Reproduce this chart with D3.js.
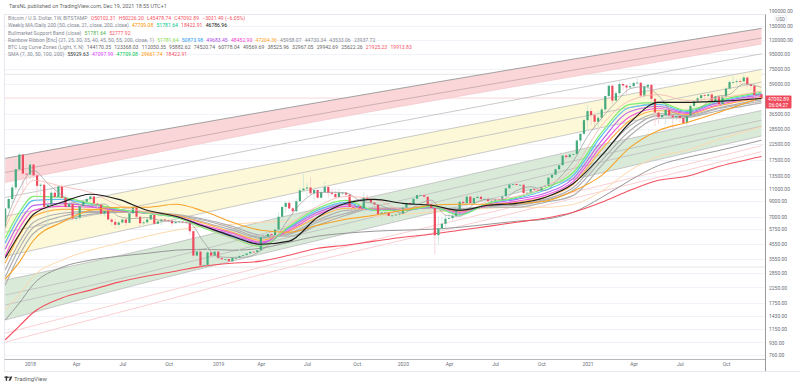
<!DOCTYPE html>
<html>
<head>
<meta charset="utf-8">
<script src="https://cdn.jsdelivr.net/npm/d3@7"></script>
<style>
  html, body { margin: 0; background: #fff; }
  svg { display: block; }
  text { font-family: Roboto, "Liberation Sans", sans-serif; }
</style>
</head>
<body>
<script>
// weekly candles, Nov 13 2017 to Dec 13 2021, one row per quarter
const closes = [8000,9300,11200,15000,19000,14000,13800,
  16200,13600,11500,11700,8200,8500,10300,9600,11400,9500,8200,8600,6800,
  6900,8300,8900,9300,9700,8650,8500,7350,7700,6700,6450,6150,6380,
  6700,6350,7400,8200,7000,6300,6400,6700,7200,6250,6500,6700,6600,
  6580,6300,6420,6480,6400,6350,5550,3750,4000,3200,3230,3950,3750,4000,
  3600,3530,3550,3420,3620,3620,3730,3780,3880,3990,3970,4090,
  5050,5080,5300,5200,5700,7000,8200,8750,8000,7650,8970,10700,11000,
  11200,10200,10750,9500,10400,11300,10300,10100,9600,10300,10300,9980,8200,8150,
  8300,8000,9500,9300,8800,8500,7300,7500,7500,7100,7150,7250,7350,
  8100,8700,8600,9350,9900,9900,9650,8550,8050,5200,5800,6250,6780,
  6850,7100,7700,8900,8700,9680,8720,9450,9650,9300,9300,9000,9050,
  9300,9150,9700,11050,11750,11850,11650,11700,10250,10300,10900,10750,10650,
  11300,11500,13100,13750,15000,16000,18700,18200,19000,19150,23800,26500,33000,
  38200,35800,32200,34300,39200,48600,57400,45200,50900,59000,57600,55800,57000,
  60000,60300,49000,56500,58200,46500,37300,34600,35800,39000,35600,34500,35300,
  34200,31500,35400,41500,44600,47000,49300,48800,49900,44900,48300,42700,48200,
  54800,60900,60900,61800,61500,65500,58700,57200,49400,50102.31,47092.89];
const highs = [8050,9750,11800,17200,19666,19000,16500,
  17300,15400,14000,12000,12000,9000,11000,11700,11500,11700,9900,9200,8600,
  7700,8400,9000,9750,10000,9800,8900,8550,7800,7750,6900,6800,6500,
  6800,6800,7700,8480,8250,7150,6600,6880,7300,7400,6600,6800,6800,
  6700,6650,6800,6600,6450,6550,6380,5650,4400,4100,3600,4250,4200,4050,
  4100,3700,3620,3560,3680,3690,4170,3900,3950,4000,4050,4150,
  5350,5450,5620,5650,5800,7500,8350,8950,9100,8150,9400,11200,13880,
  12000,13200,11000,10700,10900,12300,11400,10950,10650,10900,10450,10350,10050,8500,
  8700,8500,10370,9950,9500,9100,8200,7850,7700,7500,7500,7700,7650,
  8400,9200,8900,9650,10150,10500,10250,9950,9180,8200,7000,6950,7200,
  7450,7300,7800,9480,10000,9950,10000,9650,10400,10050,9600,9800,9300,
  9470,9300,9850,11400,12100,12150,12450,11800,12050,10650,11200,10900,10950,
  11450,11750,13350,14100,15950,16500,18800,19450,19900,19450,24300,26900,34000,
  41950,40000,37800,38500,40900,49000,58000,58300,52600,61700,60500,58600,60200,
  61300,64900,60000,58500,59500,59500,46700,40900,39500,39400,41300,35700,36600,
  35100,34600,35400,42600,44700,48100,49700,50500,51000,52900,48800,47400,49100,
  56100,62900,67000,63700,64200,69000,66400,59400,59000,51900,50226.2];
const lows = [5500,7800,8600,10800,15000,10400,11800,
  12750,13000,9000,9900,7600,5900,8000,9300,9350,8400,7300,8000,6600,
  6500,6600,7800,8700,8800,8200,7900,7050,7030,6600,6100,5780,5800,
  6280,6070,6300,7350,6900,5900,5900,6250,6650,6100,6200,6100,6400,
  6450,6000,6350,6350,6250,6300,5200,3500,3600,3150,3120,3220,3600,3650,
  3500,3500,3450,3360,3400,3570,3660,3700,3680,3780,3900,3890,
  4100,4950,5000,5100,5100,5700,6400,7500,7950,7450,7500,8950,10300,
  9650,10000,9050,9300,9350,10400,9500,9800,9350,9600,9900,9600,7750,7700,
  7800,7800,7300,9000,8600,8350,6800,6500,7150,7000,6450,7100,6850,
  7300,8050,8250,8500,9100,9700,9300,8400,7650,3850,4450,5650,5850,
  6700,6450,6800,7650,8300,8100,8650,8650,9300,8900,8950,8850,8900,
  9050,9000,9100,9900,11000,11100,11350,11100,9850,9850,10200,10150,10350,
  10530,11200,11400,12800,13200,14800,15800,16200,18100,17600,19000,21800,26000,
  27700,30400,28700,29200,32300,37900,47000,43000,45000,49300,53200,50400,55000,
  55500,59500,47000,47000,52900,42300,30000,31000,33400,31000,34800,28800,32700,
  32100,31000,29300,35200,37300,44200,43950,46300,46600,42800,43400,39600,40700,
  47100,53900,59500,57900,59400,62300,55600,53500,42000,46800,45478.74];
const firstOpen = 5900;

const lineWeeks = [0,4,8,16,24,32,40,48,56,64,72,80,88,96,104,112,120,128,136,144,152,160,168,176,184,192,200,213];
const zoneWeeks = [0,40,80,120,160,213];
const sma7Weeks = d3.range(0, 209, 4).concat(213);

const sma7 = [6300,10900,14700,11930,9890,8710,8360,8590,7030,6800,6910,6580,6480,6300,4640,3680,3640,3660,4070,4910,6880,9040,10330,10360,10270,9030,8650,8000,7420,8460,9140,7180,7050,8610,9300,9260,10640,11340,10660,13040,17110,25400,34140,43940,54700,56560,48900,37570,35070,40500,48090,49960,59200,55929.63];

const ribbon21 = [4960,7520,9700,9550,8680,7890,7400,6940,5820,4960,4360,6000,8020,9110,7760,7760,8280,7170,8680,9550,11050,14250,27150,42500,43900,38560,44600,51781.64];
const ribbon25 = [4580,7050,9110,9250,8550,7890,7400,6940,5910,5040,4430,5910,7760,8820,7760,7760,8280,7280,8680,9400,10700,13600,25800,40450,42500,37950,43900,50873.98];
const ribbon30 = [4150,6410,8410,8680,8280,7760,7400,7050,6000,5200,4580,5820,7520,8550,7760,7760,8150,7400,8550,9250,10200,12950,23800,37950,41100,37350,43200,49683.45];
const ribbon35 = [3710,5820,7760,8280,8150,7760,7400,7050,6100,5370,4650,5640,7280,8280,7890,7890,8150,7520,8410,8970,9870,12350,22000,35000,39800,36750,41800,48452.9];
const ribbon40 = [3320,5200,7050,7890,7890,7640,7520,7170,6300,5460,4800,5550,6940,8020,7890,7890,8150,7640,8410,8820,9550,11800,20650,32850,38560,36150,41100,47204.36];
const ribbon45 = [2970,4650,6410,7400,7640,7640,7520,7170,6410,5640,4960,5370,6620,7760,7890,7890,8150,7760,8280,8550,9250,11200,18750,30300,36750,35600,39800,45958.07];
const ribbon50 = [2650,4220,5910,7050,7520,7520,7520,7170,6620,5820,5040,5290,6410,7400,8020,8020,8020,7890,8280,8410,9110,10700,17300,28000,35600,35000,39200,44730.34];
const ribbon55 = [2330,3775,5370,6620,7280,7520,7520,7280,6720,6000,5200,5120,6100,7170,8020,8020,8020,8020,8150,8150,8820,9870,15950,25800,33950,34500,37950,43533.06];
const ribbon200 = [1332,1750,2370,3110,3485,3710,3890,4090,4150,4090,4220,4650,5120,5370,5550,5640,5730,5910,6200,6510,6720,7520,9550,12560,15950,18150,20000,23937.72];

const daily200 = [3600,5290,7280,8820,10050,9250,7760,7050,6000,5120,4500,4730,6940,8680,9250,8680,8410,7760,8410,8680,9550,11950,18750,31800,43900,43900,44600,46786.96];
const weekly50 = [2570,3380,4800,6410,7760,8150,8150,8550,7640,6410,5640,5460,6100,6720,7170,7760,8410,8550,8550,8680,8970,10550,13600,21300,28000,31800,36750,47709.08];
const weekly100 = [1564,2020,2700,3485,4090,4580,5120,5640,6000,6200,6410,6510,6620,6830,7050,7280,7520,7760,8020,8150,8150,8550,10550,14740,18450,20310,23800,29661.74];
const weekly200 = [970,1210,1510,1900,2154,2450,2700,2920,3165,3320,3430,3775,4220,4430,4730,5040,5290,5640,6000,6410,6830,7520,8820,10700,12560,13400,15450,18422.91];
const supportEma = [5820,9400,12560,11400,10350,8410,7520,7050,5910,4960,4430,6200,8280,9700,9250,7890,8410,7400,8970,9700,11400,15200,30300,45300,49800,45300,46800,52777.92];

// log curve zones, top to bottom
const zone1 = [17870,27150,40450,59900,88000,144170.35];
const zone2 = [14250,21650,33400,49800,73800,123368.03];
const zone3 = [12150,19050,29850,44900,66500,112050.35];
const zone4 = [9550,14740,23050,35600,54500,95882.62];
const zone5 = [7050,11200,17300,27150,42150,74520.74];
const zone6 = [5460,8550,13600,21650,33950,60778.04];
const zone7 = [3710,6100,10050,16450,26700,49569.69];
const zone8 = [2530,4150,7170,11950,20150,38525.96];
const zone9 = [1990,3320,5910,10200,17150,32967.05];
const zone10 = [1695,2870,5040,8680,15200,29942.69];
const zone11 = [1332,2450,4290,7400,12750,25622.26];
const zone12 = [1080,1950,3485,6000,10350,21925.23];
const zone13 = [935,1695,3110,5370,9400,19913.83];

const allTimeHigh = 69000;
const cycleLow = 3122;
const lastPrice = 47092.89;

const priceTicks = [190000,150000,120000,95000,75000,59000,36500,28500,22500,17500,13500,11000,9000,7000,5750,4550,3550,2850,2250,1750,1430,1150,930,760];
const timeTickWeeks = [7,20,33,46,60,72,85,99,112,125,138,151,164,177,190,203];
const timeTickLabels = ["2018","Apr","Jul","Oct","2019","Apr","Jul","Oct","2020","Apr","Jul","Oct","2021","Apr","Jul","Oct"];

const width = 800, height = 387;
const plotLeft = 4.5, plotRight = 765.5, plotTop = 14.5, axisY = 359.5, frameBottom = 371.5;

const weeks = d3.utcMonday.range(Date.UTC(2017, 10, 13), Date.UTC(2021, 11, 14));

const x = d3.scaleUtc().domain([weeks[7], weeks[203]]).range([30, 726]);
const y = d3.scaleLog().domain([760, 59000]).range([355, 84]);

const svg = d3.select("body").append("svg")
  .attr("width", width)
  .attr("height", height);

svg.append("clipPath").attr("id", "plot")
  .append("rect")
  .attr("x", plotLeft).attr("y", plotTop)
  .attr("width", plotRight - plotLeft).attr("height", axisY - plotTop);

// horizontal grid
svg.append("g").selectAll("line")
  .data(priceTicks.filter(d => y(d) > plotTop))
  .enter().append("line")
  .attr("x1", plotLeft).attr("x2", plotRight)
  .attr("y1", d => Math.round(y(d)) + .5).attr("y2", d => Math.round(y(d)) + .5)
  .attr("stroke", "#f0f3fa");

const chart = svg.append("g").attr("clip-path", "url(#plot)");

// high, low and last price lines
chart.selectAll(".level")
  .data([allTimeHigh, cycleLow])
  .enter().append("line")
  .attr("x1", plotLeft).attr("x2", plotRight)
  .attr("y1", d => y(d)).attr("y2", d => y(d))
  .attr("stroke", "#e6e6e6");
chart.append("line")
  .attr("x1", plotLeft).attr("x2", plotRight)
  .attr("y1", y(lastPrice)).attr("y2", y(lastPrice))
  .attr("stroke", "#f7c6cb").attr("stroke-width", .7);

// zone fills
const zoneArea = (top, bottom) => d3.area()
  .x((d, i) => x(weeks[zoneWeeks[i]]))
  .y0((d, i) => y(bottom[i]))
  .y1((d, i) => y(top[i]))
  .curve(d3.curveMonotoneX)(zoneWeeks);

chart.append("path").attr("d", zoneArea(zone1, zone3)).attr("fill", "#fad6d8");
chart.append("path").attr("d", zoneArea(zone5, zone7)).attr("fill", "#fcf8d8");
chart.append("path").attr("d", zoneArea(zone8, zone11)).attr("fill", "#d9ead9");

const drawLine = (values, keys, color, w) => {
  const line = d3.line()
    .x((d, i) => x(weeks[keys[i]]))
    .y(d => y(d))
    .curve(d3.curveMonotoneX);
  chart.append("path")
    .attr("d", line(values))
    .attr("fill", "none")
    .attr("stroke", color)
    .attr("stroke-width", w);
};

[zone1, zone4, zone5, zone6, zone7, zone8, zone9, zone10, zone11].forEach(z => {
  drawLine(z, zoneWeeks, z === zone1 ? "#979797" : "#bdbdbd", z === zone1 ? .9 : .8);
});
drawLine(zone2, zoneWeeks, "#c2a6a8", .8);
drawLine(zone3, zoneWeeks, "#f3c8cb", .8);
drawLine(zone12, zoneWeeks, "#fbd0d3", 1);
drawLine(zone13, zoneWeeks, "#fbd0d3", 1);

drawLine(weekly100, lineWeeks, "#fdd9ad", 1);
drawLine(ribbon200, lineWeeks, "#979797", 1);
drawLine(weekly200, lineWeeks, "#f4505f", 1.1);

// ribbon, slowest first so the coloured ones stay on top
drawLine(ribbon55, lineWeeks, "#b0b0b0", 1.2);
drawLine(ribbon50, lineWeeks, "#b0b0b0", 1.2);
drawLine(ribbon45, lineWeeks, "#b0b0b0", 1.2);
drawLine(ribbon40, lineWeeks, "#ffb04a", 1.2);
drawLine(ribbon35, lineWeeks, "#f35bd8", 1.2);
drawLine(ribbon30, lineWeeks, "#bb66ec", 1.2);
drawLine(ribbon25, lineWeeks, "#5cc0f2", 1.2);
drawLine(ribbon21, lineWeeks, "#7eee70", 1.2);

// candles
const candles = chart.append("g").selectAll("g")
  .data(weeks)
  .enter().append("g");

const isUp = i => closes[i] >= (i ? closes[i - 1] : firstOpen);

candles.append("line")
  .attr("x1", d => x(d)).attr("x2", d => x(d))
  .attr("y1", (d, i) => y(highs[i])).attr("y2", (d, i) => y(lows[i]))
  .attr("stroke", (d, i) => isUp(i) ? "#c9e5d8" : "#f8ccd1")
  .attr("stroke-width", .8);

candles.append("rect")
  .attr("x", d => x(d) - 1.1)
  .attr("width", 2.2)
  .attr("y", (d, i) => y(Math.max(closes[i], i ? closes[i - 1] : firstOpen)))
  .attr("height", (d, i) => Math.max(.8, Math.abs(y(closes[i]) - y(i ? closes[i - 1] : firstOpen))))
  .attr("fill", (d, i) => isUp(i) ? "#45ab7d" : "#ee4a5e");

drawLine(sma7, sma7Weeks, "#999", .7);
drawLine(supportEma, lineWeeks, "#f8b5ad", .8);
drawLine(weekly50, lineWeeks, "#f7a328", 1.1);
drawLine(daily200, lineWeeks, "#1c1c1c", 1.1);

// frame
svg.append("path")
  .attr("d", `M${plotRight},${plotTop}H${plotLeft}V${frameBottom}H${plotRight}`)
  .attr("fill", "none").attr("stroke", "#e6e9f0");
svg.append("line")
  .attr("x1", plotLeft).attr("x2", plotRight)
  .attr("y1", axisY).attr("y2", axisY)
  .attr("stroke", "#b8b8b8");
svg.append("line")
  .attr("x1", plotRight).attr("x2", plotRight)
  .attr("y1", plotTop).attr("y2", frameBottom)
  .attr("stroke", "#9a9a9a");
svg.append("line")
  .attr("x1", plotRight).attr("x2", width)
  .attr("y1", frameBottom).attr("y2", frameBottom)
  .attr("stroke", "#e6e9f0");

// price axis
const yAxis = d3.axisRight(y).tickValues(priceTicks).tickSize(0).tickPadding(3.5)
  .tickFormat(d3.format(".2f"));
const yg = svg.append("g").attr("transform", `translate(${plotRight},0)`).call(yAxis);
yg.select(".domain").remove();
yg.selectAll("text").attr("font-size", 5).attr("font-family", "Roboto").attr("fill", "#6a6d78");

// time axis
const xAxis = d3.axisBottom(x)
  .tickValues(timeTickWeeks.map(i => weeks[i]))
  .tickFormat((d, i) => timeTickLabels[i])
  .tickSize(0).tickPadding(3);
const xg = svg.append("g").attr("transform", `translate(0,${axisY})`).call(xAxis);
xg.select(".domain").remove();
xg.selectAll("text").attr("font-size", 5).attr("font-family", "Roboto").attr("fill", "#6a6d78");

// USD box
svg.append("rect")
  .attr("x", 775).attr("y", 15.5).attr("width", 11.5).attr("height", 6.5).attr("rx", 1.5)
  .attr("fill", "#fff").attr("stroke", "#e0e3eb").attr("stroke-width", .6);
svg.append("text")
  .attr("x", 780.7).attr("y", 20.6).attr("text-anchor", "middle")
  .attr("font-size", 4.6).attr("fill", "#6a6d78").text("USD");

// last price tag
svg.append("rect")
  .attr("x", 765.5).attr("y", 95.5).attr("width", 26).attr("height", 13).attr("rx", 1)
  .attr("fill", "#ef4a5c");
svg.append("text").attr("x", 778.5).attr("y", 101).attr("text-anchor", "middle")
  .attr("font-size", 5).attr("fill", "#fff").text("47092.89");
svg.append("text").attr("x", 778.5).attr("y", 106.8).attr("text-anchor", "middle")
  .attr("font-size", 5).attr("fill", "#fff").text("06:04:27");

// header text
svg.append("text").attr("x", 9).attr("y", 8)
  .attr("font-size", 5.4).attr("fill", "#666")
  .text("TarsNL published on TradingView.com, Dec 19, 2021 18:55 UTC+1");

const red = "#f7525f", gray = "#878a94";
const legendRows = [
  [["Bitcoin / U.S. Dollar, 1W, BITSTAMP", gray], ["O50102.31", red], ["H50226.20", red], ["L45478.74", red], ["C47092.89", red], ["\u22123031.49 (\u22126.05%)", red]],
  [["Weekly MA/Daily 200 (50, close, 21, close, 200, close)", gray], ["47709.08", "#ff9800"], ["51781.64", "#00c98a"], ["18422.91", red], ["46786.96", "#222"]],
  [["Bullmarket Support Band (close)", gray], ["51781.64", "#4caf50"], ["52777.92", red]],
  [["Rainbow Ribbon [Eric] (21, 25, 30, 35, 40, 45, 50, 55, 200, close, 1)", gray], ["51781.64", "#8be04e"], ["50873.98", "#2f9bf0"], ["49683.45", "#b04ee8"], ["48452.90", "#f03fd0"], ["47204.36", "#ffa726"], ["45958.07", gray], ["44730.34", gray], ["43533.06", gray], ["23937.72", gray]],
  [["BTC Log Curve Zones (Light, Y, N)", gray], ["144170.35", "#666"], ["123368.03", "#666"], ["112050.35", "#666"], ["95882.62", "#666"], ["74520.74", "#666"], ["60778.04", "#666"], ["49569.69", "#666"], ["38525.96", "#666"], ["32967.05", "#666"], ["29942.69", "#666"], ["25622.26", "#666"], ["21925.23", red], ["19913.83", red]],
  [["SMA (7, 30, 50, 100, 200)", gray], ["55929.63", "#333"], ["47097.99", "#e040fb"], ["47709.08", "#00c853"], ["29661.74", "#ff9800"], ["18422.91", red]]
];
const legendY = [20, 27.3, 34.5, 41.8, 49, 56.3];

legendRows.forEach((row, r) => {
  const t = svg.append("text").attr("x", 8).attr("y", legendY[r]).attr("font-size", 5.1);
  row.forEach((seg, i) => {
    t.append("tspan")
      .attr("dx", i ? 3.2 : 0)
      .attr("fill", seg[1])
      .text(seg[0]);
  });
});

// TradingView mark
const logo = svg.append("g").attr("fill", "#333");
logo.append("rect").attr("x", 4.5).attr("y", 376.5).attr("width", 3.6).attr("height", 1.4);
logo.append("rect").attr("x", 5.7).attr("y", 376.5).attr("width", 1.4).attr("height", 4.3);
logo.append("circle").attr("cx", 9).attr("cy", 377.2).attr("r", .8);
logo.append("path").attr("d", "M10.5,376.5H12.4L10.4,380.8H8.5Z");
svg.append("text").attr("x", 14).attr("y", 381)
  .attr("font-size", 6).attr("fill", "#666").text("TradingView");
</script>
</body>
</html>
